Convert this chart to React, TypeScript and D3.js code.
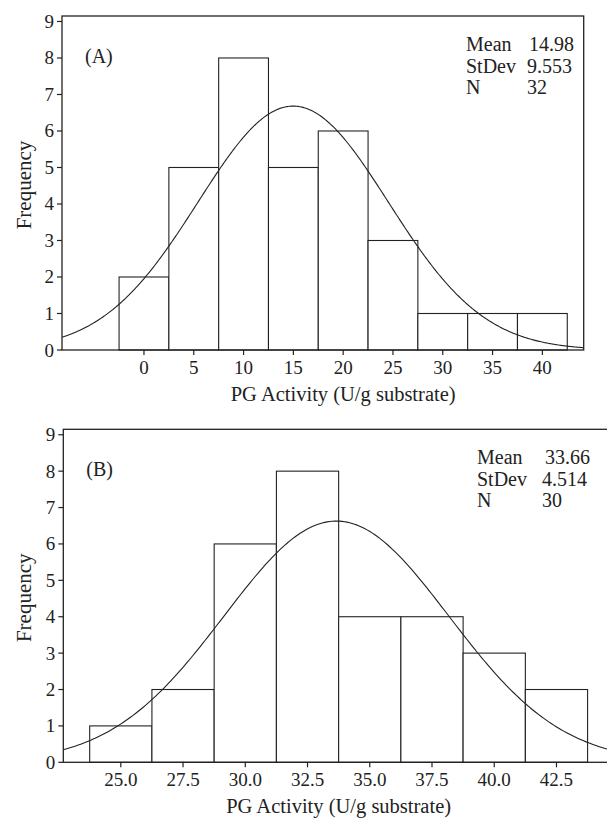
import * as d3 from "d3";

// panel A
const edgesA = [-2.5, 2.5, 7.5, 12.5, 17.5, 22.5, 27.5, 32.5, 37.5, 42.5];
const countsA = [2, 5, 8, 5, 6, 3, 1, 1, 1];
const ticksA = [0, 5, 10, 15, 20, 25, 30, 35, 40];
const statsA = { mean: 14.98, stdev: 9.553, n: 32 };
const statTextA = ["14.98", "9.553", "32"];

// panel B
const edgesB = [23.75, 26.25, 28.75, 31.25, 33.75, 36.25, 38.75, 41.25, 43.75];
const countsB = [1, 2, 6, 8, 4, 4, 3, 2];
const ticksB = [25.0, 27.5, 30.0, 32.5, 35.0, 37.5, 40.0, 42.5];
const statsB = { mean: 33.66, stdev: 4.514, n: 30 };
const statTextB = ["33.66", "4.514", "30"];

const yTicks = [0, 1, 2, 3, 4, 5, 6, 7, 8, 9];
const statNames = ["Mean", "StDev", "N"];

const FONT = "'Liberation Serif', 'Times New Roman', serif";
const INK = "#222";

type PanelProps = {
  id: string;
  label: string;
  edges: number[];
  counts: number[];
  ticks: number[];
  tickFmt: (d: number) => string;
  stats: { mean: number; stdev: number; n: number };
  statText: string[];
  xDomain: [number, number];
  left: number;
  right: number;
  top: number;
  bottom: number;
  statX: number;
  valX: number[];
};

function Panel(p: PanelProps) {
  const x = d3.scaleLinear().domain(p.xDomain).range([p.left, p.right]);
  const y = d3.scaleLinear().domain([0, 9.15]).range([p.bottom, p.top]);
  const bw = p.edges[1] - p.edges[0];
  // fitted normal curve from the stats shown in the legend
  const k = (p.stats.n * bw) / (p.stats.stdev * Math.sqrt(2 * Math.PI));
  const xs = d3.range(p.xDomain[0], p.xDomain[1] + 0.05, 0.1);
  const line = d3
    .line<number>()
    .x((d) => x(d))
    .y((d) => y(k * Math.exp(-0.5 * ((d - p.stats.mean) / p.stats.stdev) ** 2)));

  return (
    <g>
      <defs>
        <clipPath id={`clip-${p.id}`}>
          <rect x={p.left} y={p.top} width={p.right - p.left} height={p.bottom - p.top} />
        </clipPath>
      </defs>
      {p.counts.map((c, i) => (
        <rect
          key={i}
          x={x(p.edges[i])}
          y={y(c)}
          width={x(p.edges[i + 1]) - x(p.edges[i])}
          height={y(0) - y(c)}
          fill="#fff"
          stroke={INK}
          strokeWidth={1.1}
        />
      ))}
      <path
        d={line(xs) || ""}
        fill="none"
        stroke={INK}
        strokeWidth={1.1}
        clipPath={`url(#clip-${p.id})`}
      />
      <rect
        x={p.left}
        y={p.top}
        width={p.right - p.left}
        height={p.bottom - p.top}
        fill="none"
        stroke={INK}
        strokeWidth={1.3}
      />
      {yTicks.map((t) => (
        <g key={t}>
          <line x1={p.left - 5} x2={p.left} y1={y(t)} y2={y(t)} stroke={INK} strokeWidth={1.2} />
          <text x={p.left - 8} y={y(t) + 6.5} textAnchor="end" fontSize={19} fontFamily={FONT} fill={INK}>
            {t}
          </text>
        </g>
      ))}
      {p.ticks.map((t) => (
        <g key={t}>
          <line x1={x(t)} x2={x(t)} y1={p.bottom} y2={p.bottom + 5} stroke={INK} strokeWidth={1.2} />
          <text x={x(t)} y={p.bottom + 24} textAnchor="middle" fontSize={19} fontFamily={FONT} fill={INK}>
            {p.tickFmt(t)}
          </text>
        </g>
      ))}
      <text
        x={(x(p.ticks[0]) + x(p.ticks[p.ticks.length - 1])) / 2}
        y={p.bottom + 51}
        textAnchor="middle"
        fontSize={20.5}
        fontFamily={FONT}
        fill={INK}
      >
        PG Activity (U/g substrate)
      </text>
      <text
        transform={`translate(31,${(p.top + p.bottom) / 2 + 2}) rotate(-90)`}
        textAnchor="middle"
        fontSize={21}
        fontFamily={FONT}
        fill={INK}
      >
        Frequency
      </text>
      <text x={p.left + 23} y={p.top + 47} fontSize={20} fontFamily={FONT} fill={INK}>
        {p.label}
      </text>
      {statNames.map((s, i) => (
        <g key={s}>
          <text x={p.statX} y={p.top + 35 + i * 21.5} fontSize={20} fontFamily={FONT} fill={INK}>
            {s}
          </text>
          <text x={p.valX[i]} y={p.top + 35 + i * 21.5} fontSize={20} fontFamily={FONT} fill={INK}>
            {p.statText[i]}
          </text>
        </g>
      ))}
    </g>
  );
}

export default function App() {
  return (
    <svg
      width={607}
      height={822}
      style={{ position: "absolute", left: 0, top: 0, background: "#fff" }}
    >
      <rect width={607} height={822} fill="#fff" />
      <Panel
        id="a"
        label="(A)"
        edges={edgesA}
        counts={countsA}
        ticks={ticksA}
        tickFmt={(d) => d3.format("d")(d)}
        stats={statsA}
        statText={statTextA}
        xDomain={[-8.23, 44.15]}
        left={62}
        right={583.7}
        top={16}
        bottom={350}
        statX={466}
        valX={[529, 527, 527]}
      />
      <Panel
        id="b"
        label="(B)"
        edges={edgesB}
        counts={countsB}
        ticks={ticksB}
        tickFmt={(d) => d3.format(".1f")(d)}
        stats={statsB}
        statText={statTextB}
        xDomain={[22.69, 44.65]}
        left={63.3}
        right={610}
        top={429.3}
        bottom={762.3}
        statX={477}
        valX={[545, 542, 542]}
      />
    </svg>
  );
}
